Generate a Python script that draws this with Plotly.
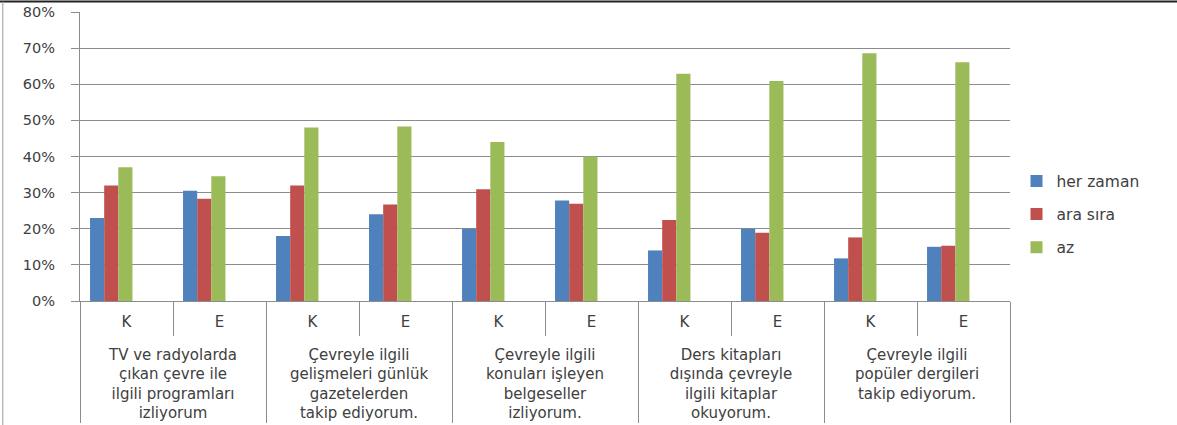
import plotly.graph_objects as go

groups = [
    "<br>TV ve radyolarda<br>çıkan çevre ile<br>ilgili programları<br>izliyorum",
    "<br>Çevreyle ilgili<br>gelişmeleri günlük<br>gazetelerden<br>takip ediyorum.",
    "<br>Çevreyle ilgili<br>konuları işleyen<br>belgeseller<br>izliyorum.",
    "<br>Ders kitapları<br>dışında çevreyle<br>ilgili kitaplar<br>okuyorum.",
    "<br>Çevreyle ilgili<br>popüler dergileri<br>takip ediyorum.",
]
genders = ["K", "E"]

her_zaman = [0.23, 0.305, 0.18, 0.24, 0.20, 0.278, 0.14, 0.20, 0.118, 0.15]
ara_sira = [0.32, 0.283, 0.32, 0.267, 0.309, 0.269, 0.224, 0.189, 0.176, 0.153]
az = [0.37, 0.345, 0.48, 0.483, 0.44, 0.40, 0.629, 0.609, 0.686, 0.661]

series = [("her zaman", her_zaman, "#4F81BD"),
          ("ara sıra", ara_sira, "#C0504D"),
          ("az", az, "#9BBB59")]

x_outer = [g for g in groups for _ in genders]
x_inner = [s for _ in groups for s in genders]

bar_w = 0.152
first_off = -0.392

fig = go.Figure()
for i, (name, vals, col) in enumerate(series):
    fig.add_trace(go.Bar(x=[x_outer, x_inner], y=vals, name=name,
                         width=bar_w, offset=first_off + i * bar_w,
                         marker=dict(color=col, line=dict(width=0)),
                         legendgroup=str(i)))

font = "'DejaVu Sans', Verdana, sans-serif"
txt = "#404040"
fig.update_layout(
    width=1177, height=425,
    margin=dict(l=80, r=167, t=12, b=124, pad=0),
    paper_bgcolor="white", plot_bgcolor="white",
    barmode="overlay",
    font=dict(family=font, color=txt),
    showlegend=True,
    legend=dict(x=1.007, y=0.30, xanchor="left", yanchor="middle",
                font=dict(size=15.5, color=txt),
                traceorder="grouped", tracegroupgap=10),
    xaxis=dict(type="multicategory", showline=True, linecolor="#8c8c8c",
               linewidth=1, ticks="outside", tickson="boundaries",
               ticklen=34, tickcolor="#8c8c8c", automargin=False,
               ticklabelstandoff=7,
               showdividers=True, dividercolor="#8c8c8c", dividerwidth=1,
               tickfont=dict(size=15, color=txt), showgrid=False),
    yaxis=dict(range=[0, 0.8], dtick=0.1, tickformat=".0%",
               showgrid=True, gridcolor="#8c8c8c", gridwidth=1,
               showline=True, linecolor="#8c8c8c", linewidth=1,
               ticks="outside", ticklen=8, tickcolor="#8c8c8c",
               automargin=False, ticklabelstandoff=13,
               tickfont=dict(size=14.5, color=txt), zeroline=False),
    shapes=[
        dict(type="line", xref="paper", yref="paper", x0=-0.086, x1=1.18,
             y0=1.036, y1=1.036, line=dict(color="#222222", width=2)),
        dict(type="line", xref="paper", yref="paper", x0=-0.083, x1=-0.083,
             y0=1.036, y1=-0.43, line=dict(color="#9a9a9a", width=1)),
    ],
)

fig.write_html("out.html", config={"displayModeBar": False},
               post_script="document.body.style.margin='0px';")
